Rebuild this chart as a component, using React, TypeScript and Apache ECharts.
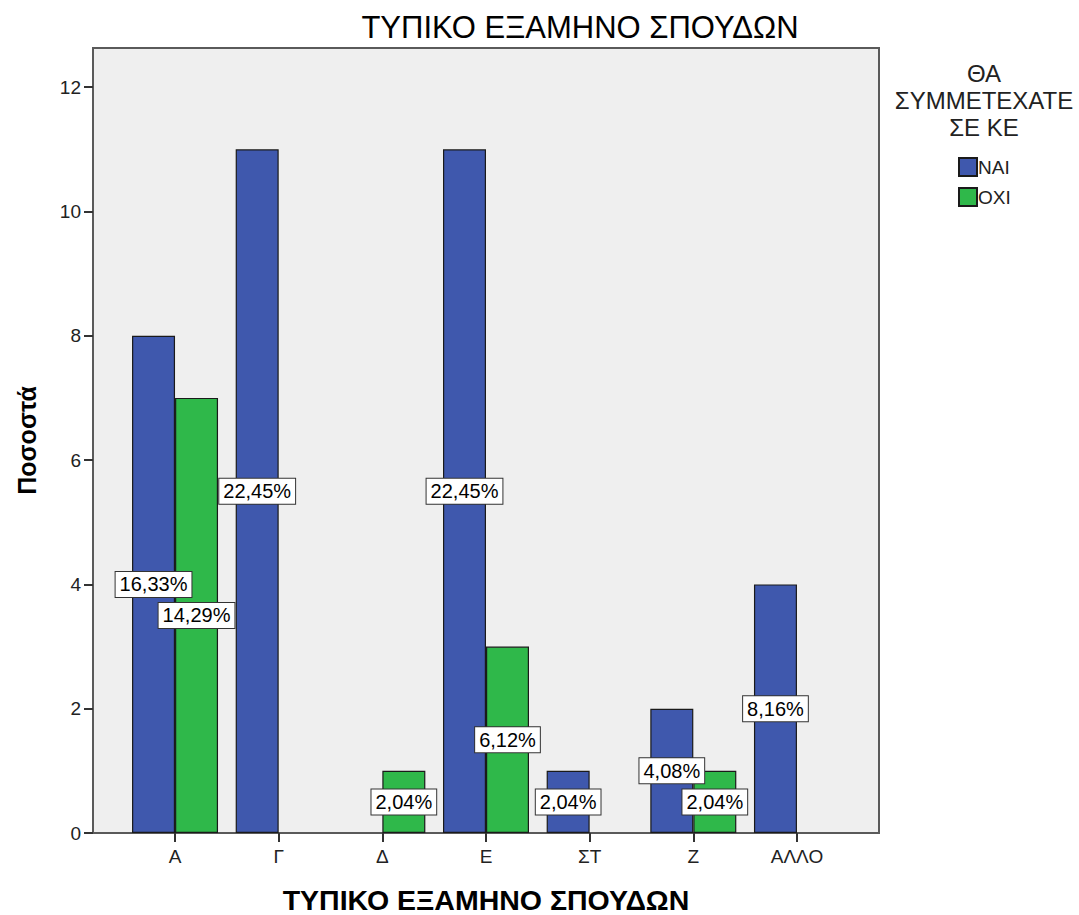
import React, { useEffect, useRef } from "react";
import * as echarts from "echarts";

const categories = ["Α", "Γ", "Δ", "Ε", "ΣΤ", "Ζ", "ΑΛΛΟ"];
const naiCounts = [8, 11, 0, 11, 1, 2, 4];
const oxiCounts = [7, 0, 1, 3, 0, 1, 0];
const naiLabels = ["16,33%", "22,45%", "", "22,45%", "2,04%", "4,08%", "8,16%"];
const oxiLabels = ["14,29%", "", "2,04%", "6,12%", "", "2,04%", ""];
const yTicks = [0, 2, 4, 6, 8, 10, 12];
const seriesNames = ["ΝΑΙ", "ΟΧΙ"];

const FONT = "'Liberation Sans', Arial, sans-serif";
const BLUE = "#3f58ad";
const GREEN = "#2fb84a";

const PLOT_L = 93;
const PLOT_R = 879;
const PLOT_T = 48;
const PLOT_B = 833;

export default function App() {
  const ref = useRef<HTMLDivElement>(null);
  useEffect(() => {
    document.body.style.margin = "0";
    const chart = echarts.init(ref.current!, null, { renderer: "svg" });
    const mk = (counts: number[], labels: string[]) =>
      counts.map((v, i) =>
        v === 0 ? "-" : { value: v, label: { formatter: labels[i] } }
      );
    const labelStyle = {
      show: true,
      position: "inside",
      color: "#000",
      fontSize: 20,
      fontFamily: FONT,
      backgroundColor: "#fff",
      borderColor: "#333",
      borderWidth: 1,
      padding: [2, 4, 1, 4],
      lineHeight: 22,
    };
    chart.setOption({
      animation: false,
      textStyle: { fontFamily: FONT },
      grid: {
        left: 123.2,
        right: 1079 - 848.8,
        top: PLOT_T,
        bottom: 915 - PLOT_B,
        containLabel: false,
        outerBoundsMode: "none",
      },
      xAxis: {
        type: "category",
        data: categories,
        axisLine: { show: false },
        axisTick: {
          show: true,
          alignWithLabel: true,
          length: 9,
          lineStyle: { color: "#333", width: 2 },
        },
        axisLabel: { color: "#222", fontSize: 19, margin: 14, fontFamily: FONT },
        name: "ΤΥΠΙΚΟ ΕΞΑΜΗΝΟ ΣΠΟΥΔΩΝ",
        nameLocation: "middle",
        nameGap: 52,
        nameTextStyle: { color: "#000", fontSize: 28.5, fontWeight: "bold", fontFamily: FONT },
      },
      yAxis: {
        type: "value",
        min: 0,
        max: 12.63,
        interval: 2,
        offset: 123.2 - PLOT_L,
        splitLine: { show: false },
        axisLine: { show: false },
        axisTick: {
          show: true,
          length: 9,
          customValues: yTicks,
          lineStyle: { color: "#333", width: 2 },
        },
        axisLabel: {
          color: "#222",
          fontSize: 19,
          margin: 12,
          fontFamily: FONT,
          customValues: yTicks,
        },
        name: "Ποσοστά",
        nameLocation: "middle",
        nameGap: 54,
        nameRotate: 90,
        nameTextStyle: { color: "#000", fontSize: 25, fontWeight: "bold", fontFamily: FONT },
      },
      legend: {
        orient: "vertical",
        left: 953,
        top: 152,
        itemWidth: 18,
        itemHeight: 18,
        itemGap: 10,
        icon: "rect",
        textStyle: { color: "#222", fontSize: 19, fontFamily: FONT, padding: [0, 0, 0, -4] },
        data: seriesNames,
      },
      graphic: [
        {
          type: "rect",
          z: -10,
          silent: true,
          shape: { x: PLOT_L, y: PLOT_T, width: PLOT_R - PLOT_L, height: PLOT_B - PLOT_T },
          style: { fill: "#efefef", stroke: "#5a5a5a", lineWidth: 2 },
        },
        {
          type: "text",
          x: 580,
          y: 27,
          style: {
            text: "ΤΥΠΙΚΟ ΕΞΑΜΗΝΟ ΣΠΟΥΔΩΝ",
            fontSize: 31,
            fontFamily: FONT,
            fill: "#000",
            align: "center",
            verticalAlign: "middle",
          },
        },
        {
          type: "text",
          x: 984,
          y: 100,
          style: {
            text: "ΘΑ\nΣΥΜΜΕΤΕΧΑΤΕ\nΣΕ ΚΕ",
            fontSize: 24,
            lineHeight: 27,
            fontFamily: FONT,
            fill: "#222",
            align: "center",
            verticalAlign: "middle",
          },
        },
      ],
      series: [
        {
          name: seriesNames[0],
          type: "bar",
          barWidth: 43,
          barGap: "0%",
          itemStyle: { color: BLUE, borderColor: "#1a1a1a", borderWidth: 1.2 },
          label: labelStyle,
          data: mk(naiCounts, naiLabels),
        },
        {
          name: seriesNames[1],
          type: "bar",
          barWidth: 43,
          barGap: "0%",
          itemStyle: { color: GREEN, borderColor: "#1a1a1a", borderWidth: 1.2 },
          label: labelStyle,
          data: mk(oxiCounts, oxiLabels),
        },
      ],
    });
    return () => chart.dispose();
  }, []);
  return <div ref={ref} style={{ width: 1079, height: 915 }} />;
}
